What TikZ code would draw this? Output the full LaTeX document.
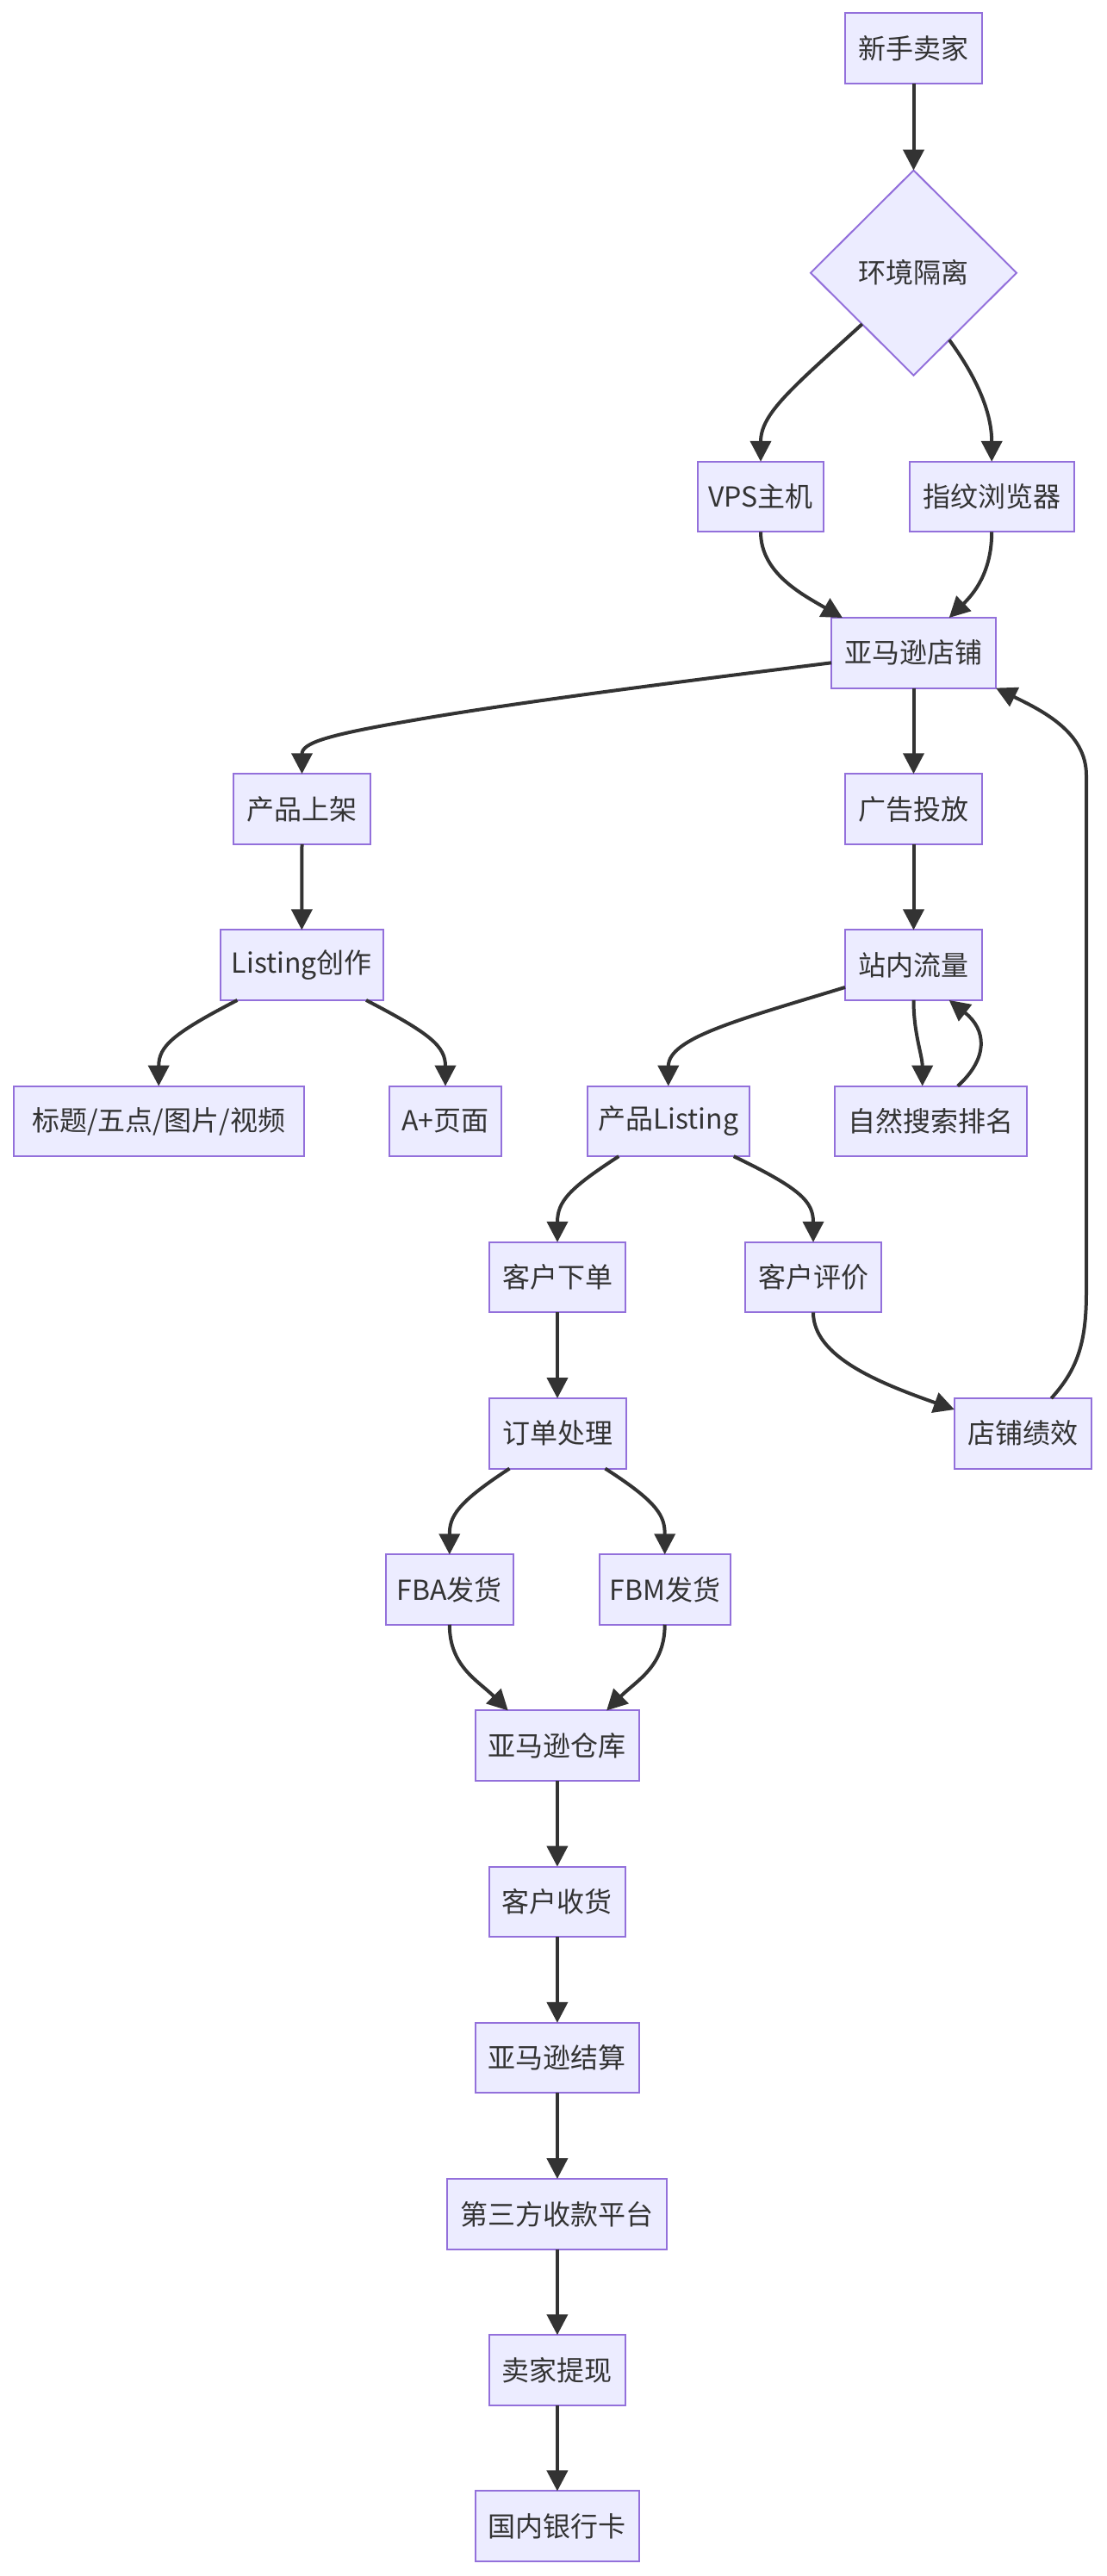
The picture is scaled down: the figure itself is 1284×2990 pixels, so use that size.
\documentclass[tikz,border=0pt]{standalone}
\usepackage{fontspec}
\setmainfont{Noto Sans CJK SC}
\newfontfamily\cjk{Noto Sans CJK SC}
\usetikzlibrary{arrows.meta,shapes.geometric}
\definecolor{boxfill}{HTML}{ECECFF}
\definecolor{boxborder}{HTML}{9370DB}
\definecolor{ink}{HTML}{333333}
\begin{document}
\begin{tikzpicture}[x=0.5pt,y=-0.5pt,
  box/.style={draw=boxborder, fill=boxfill, line width=1pt, minimum height=40.75pt,
    inner sep=0pt, outer sep=0pt, text=ink, font=\cjk\fontsize{16pt}{19pt}\selectfont},
  decision/.style={diamond, aspect=1, draw=boxborder, fill=boxfill, line width=1pt,
    minimum width=119.5pt, minimum height=119pt, inner sep=0pt, outer sep=0pt,
    text=ink, font=\cjk\fontsize{16pt}{19pt}\selectfont},
  link/.style={draw=ink, line width=2pt, -{Triangle[length=12pt,width=12pt]}}]
\useasboundingbox (0,0) rectangle (1284,2990);

% nodes
\node[box, minimum width=79.5pt] (n1) at (1060.5,56.2) {新手卖家};
\node[decision] (d) at (1060.5,316.7) {环境隔离};
\node[box, minimum width=73.3pt] (vps) at (883,576.6) {VPS主机};
\node[box, minimum width=95.5pt] (fp) at (1151.2,576.6) {指纹浏览器};
\node[box, minimum width=95.5pt] (shop) at (1060.5,757.8) {亚马逊店铺};
\node[box, minimum width=79.5pt] (cp) at (350.5,939) {产品上架};
\node[box, minimum width=79.5pt] (ad) at (1060.5,939) {广告投放};
\node[box, minimum width=94.3pt] (lc) at (350.3,1120.2) {Listing创作};
\node[box, minimum width=79.5pt] (tr) at (1060.5,1120.2) {站内流量};
\node[box, minimum width=168.5pt] (ti) at (184.2,1301.4) {标题/五点/图片/视频};
\node[box, minimum width=65.25pt] (ap) at (517,1301.4) {A+页面};
\node[box, minimum width=94.15pt] (pl) at (775.8,1301.4) {产品Listing};
\node[box, minimum width=111.35pt] (ns) at (1080.7,1301.4) {自然搜索排名};
\node[box, minimum width=79.3pt] (ko) at (647,1482.6) {客户下单};
\node[box, minimum width=79pt] (kr) at (944,1482.6) {客户评价};
\node[box, minimum width=79.5pt] (op) at (647,1663.8) {订单处理};
\node[box, minimum width=79.4pt] (sp) at (1187.3,1663.8) {店铺绩效};
\node[box, minimum width=74.15pt] (fba) at (521.8,1845) {FBA发货};
\node[box, minimum width=76pt] (fbm) at (771.7,1845) {FBM发货};
\node[box, minimum width=95.15pt] (wh) at (646.9,2026.2) {亚马逊仓库};
\node[box, minimum width=79.35pt] (rc) at (646.9,2207.4) {客户收货};
\node[box, minimum width=95.3pt] (st) at (646.9,2388.6) {亚马逊结算};
\node[box, minimum width=127.5pt] (tp) at (646.9,2569.8) {第三方收款平台};
\node[box, minimum width=79.35pt] (wd) at (646.9,2751) {卖家提现};
\node[box, minimum width=95.3pt] (bk) at (646.9,2932.2) {国内银行卡};

% connectors
\draw[link] (n1.south) -- (d.north);
\draw[link] (d.south west) .. controls +(-80.75,73.8) and +(0,-56) .. (vps.north);
\draw[link] (d.-62) .. controls +(33.2,45.5) and +(0,-56) .. (fp.north);
\draw[link] (vps.south) .. controls +(0,47.3) and +(-48,-27.6) .. ([xshift=6.5pt]shop.north west);
\draw[link] (fp.south) .. controls +(0,47.3) and +(28.3,-27.6) .. ([xshift=-27.15pt]shop.north east);
\draw[link] ([yshift=-5.75pt]shop.west) .. controls +(-165,20.7) and +(120,-21) .. (480,836)
  .. controls +(-100,17) and +(0,-36) .. (cp.north);
\draw[link] (shop.south) -- (ad.north);
\draw[link] (ad.south) -- (tr.north);
\draw[link] (cp.south) -- (lc.north);
\draw[link] ([xshift=9.7pt]lc.south west) .. controls +(-75.4,39) and +(0,-46) .. (ti.north);
\draw[link] ([xshift=-9.8pt]lc.south east) .. controls +(75.2,39) and +(0,-46) .. (ap.north);
\draw[link] ([yshift=7.5pt]tr.south west) .. controls +(-121,37) and +(0,-56) .. (pl.north);
\draw[link] (tr.south) .. controls +(0,39) and +(0,-36) .. ([xshift=-5pt]ns.north);
\draw[link] ([xshift=15.5pt]ns.north) .. controls +(36.3,-33) and +(43.3,34) .. ([xshift=20.6pt]tr.south);
\draw[link] ([xshift=18.3pt]pl.south west) .. controls +(-58.3,37.7) and +(0,-47) .. (ko.north);
\draw[link] ([xshift=-9.15pt]pl.south east) .. controls +(78.3,37.7) and +(0,-47) .. (kr.north);
\draw[link] (ko.south) -- (op.north);
\draw[link] (kr.south) .. controls +(0,51.3) and +(-87.9,-31) .. ([yshift=-6.5pt]sp.north west);
\draw[link] ([xshift=16.5pt]sp.north) .. controls +(29.7,-33) and +(0,60) .. (1261,1500)
  -- (1261,900) .. controls +(0,-50) and +(54,26.4) .. (shop.south east);
\draw[link] ([xshift=12pt]op.south west) .. controls +(-61.5,40) and +(0,-44) .. (fba.north);
\draw[link] ([xshift=-12pt]op.south east) .. controls +(62.5,40) and +(0,-44) .. (fbm.north);
\draw[link] (fba.south) .. controls +(0,48.5) and +(-35,-35) .. ([xshift=19pt]wh.north west);
\draw[link] (fbm.south) .. controls +(0,48.5) and +(35,-35) .. ([xshift=-19pt]wh.north east);
\draw[link] (wh.south) -- (rc.north);
\draw[link] (rc.south) -- (st.north);
\draw[link] (st.south) -- (tp.north);
\draw[link] (tp.south) -- (wd.north);
\draw[link] (wd.south) -- (bk.north);
\end{tikzpicture}
\end{document}
